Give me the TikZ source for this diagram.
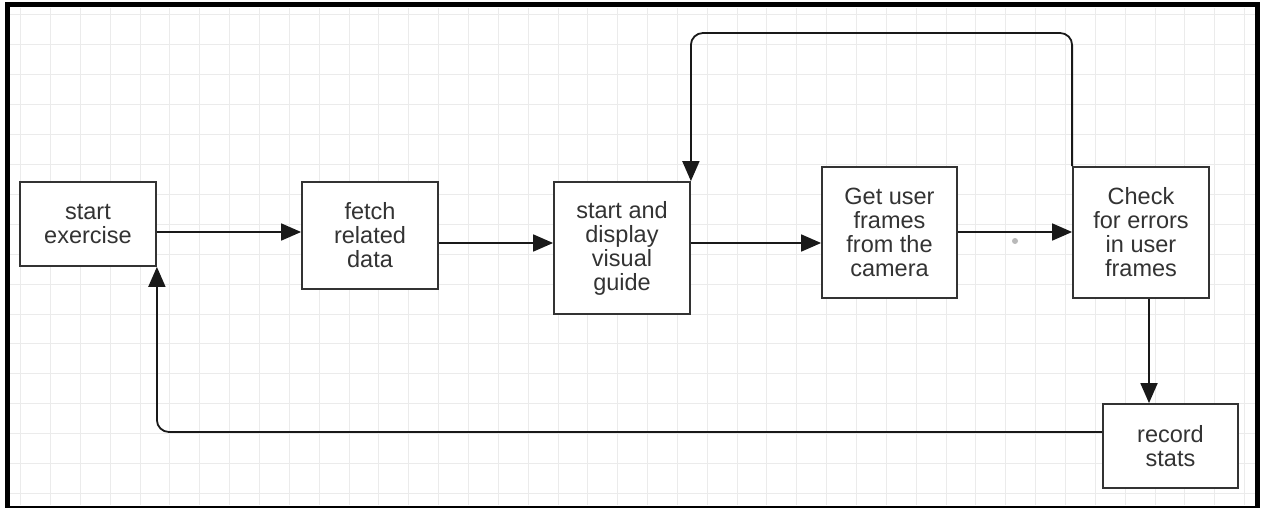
\documentclass[tikz,border=0pt]{standalone}
\usepackage{fontspec}
\setmainfont{Liberation Sans}
\usetikzlibrary{arrows.meta}
\definecolor{gridc}{HTML}{EBEBEB}
\definecolor{ink}{HTML}{333333}
\begin{document}
\begin{tikzpicture}[x=1pt,y=-1pt,
  box/.style={draw=ink, line width=1.8pt, fill=white, text=ink, align=center,
              font=\fontsize{23.5}{24}\selectfont, inner sep=0pt},
  conn/.style={draw=black!90, line width=1.8pt, -{Triangle[length=20pt,width=17pt]}},
  gridline/.style={draw=gridc, line width=1pt}]
\useasboundingbox (0,0) rectangle (1263,508);
\fill[white] (0,0) rectangle (1263,508);

% background grid
\foreach \i in {0,...,41}
  \draw[gridline] ({20.7+29.85*\i},8) -- ({20.7+29.85*\i},505);
\foreach \j in {0,...,16}
  \draw[gridline] (10,{15+29.9*\j}) -- (1255,{15+29.9*\j});

% frame
\draw[line width=5pt] (7.5,5) rectangle (1257.5,508);

% process boxes
\node[box, minimum width=136pt, minimum height=84pt]  (start)   at (88,224)     {start\\exercise};
\node[box, minimum width=136pt, minimum height=107pt] (fetch)   at (370,235.5)  {fetch\\related\\data};
\node[box, minimum width=136pt, minimum height=132pt] (display) at (622,248)    {start and\\display\\visual\\guide};
\node[box, minimum width=135pt, minimum height=131pt] (frames)  at (889.5,232.5){Get user\\frames\\from the\\camera};
\node[box, minimum width=136pt, minimum height=131pt] (check)   at (1141,232.5) {Check\\for errors\\in user\\frames};
\node[box, minimum width=135pt, minimum height=84pt]  (record)  at (1170.5,446) {record\\stats};

% connectors
\draw[conn] (start.east |- 0,232) -- (fetch.west |- 0,232);
\draw[conn] (fetch.east |- 0,243) -- (display.west |- 0,243);
\draw[conn] (display.east |- 0,243) -- (frames.west |- 0,243);
\draw[conn] (frames.east |- 0,232) -- (check.west |- 0,232);
\draw[conn] (check.south -| 1149,0) -- (record.north -| 1149,0);
\draw[conn, rounded corners=12pt] (record.west |- 0,432) -| (start.south east);
\draw[conn, rounded corners=12pt] (check.north west) -- (check.north west |- 0,33) -| (display.north east);

% waypoint handle
\fill[gray!55] (1015,241) circle (3pt);
\end{tikzpicture}
\end{document}
